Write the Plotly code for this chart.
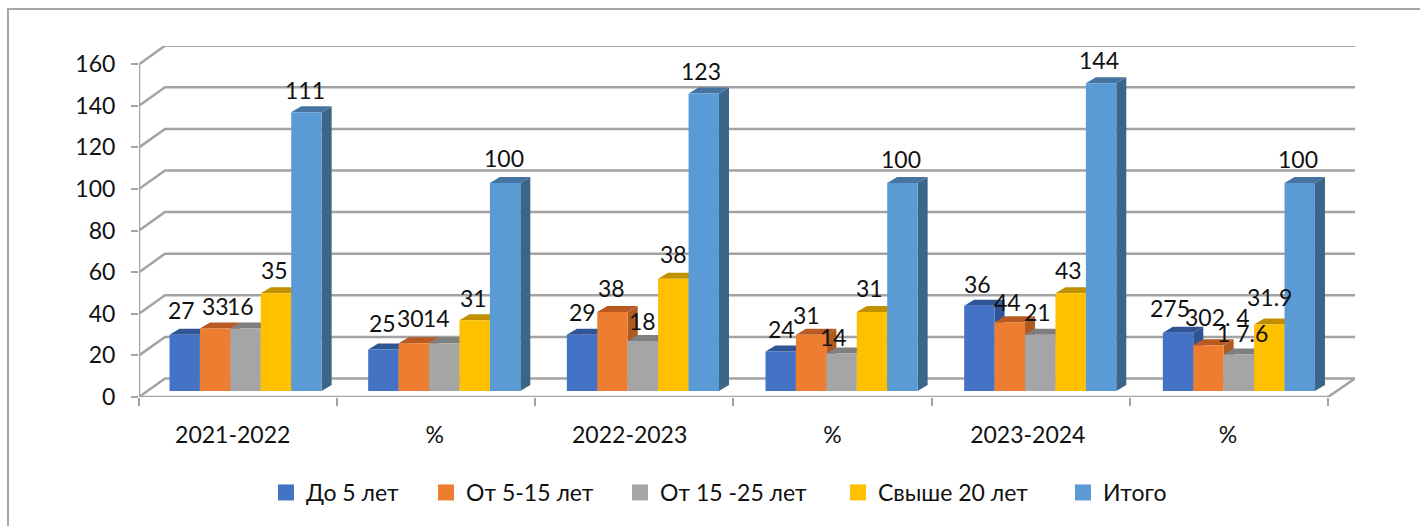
import plotly.graph_objects as go

series = ["До 5 лет", "От 5-15 лет", "От 15 -25 лет", "Свыше 20 лет", "Итого"]
categories = ["2021-2022", "%", "2022-2023", "%", "2023-2024", "%"]
y_ticks = [0, 20, 40, 60, 80, 100, 120, 140, 160]

# bar heights as drawn (they do not follow the data labels in the source chart)
do_5 = [27, 20, 27, 19, 41, 28]
ot_5_15 = [30, 23, 38, 27, 33, 22]
ot_15_25 = [30, 23, 24, 18, 27, 17.5]
svyshe_20 = [47, 34, 54, 38, 47, 32]
itogo = [134, 100, 143, 100, 148, 100]
heights = [do_5, ot_5_15, ot_15_25, svyshe_20, itogo]

labels_do_5 = ["27", "25", "29", "24", "36", "275"]
labels_ot_5_15 = ["33", "30", "38", "31", "44", "302. 4"]
labels_ot_15_25 = ["16", "14", "18", "14", "21", "1 7.6"]
labels_svyshe_20 = ["35", "31", "38", "31", "43", "31.9"]
labels_itogo = ["111", "100", "123", "100", "144", "100"]
labels = [labels_do_5, labels_ot_5_15, labels_ot_15_25, labels_svyshe_20, labels_itogo]

# hand placed labels in the source: pixel nudges from the top of each bar
nudge_x = [
    [-3, -1, 0, 1, -1.5, -8],
    [0, -3.5, -1, -5, -2, 9.5],
    [-5.5, -8, 0, -8, -2.5, 4],
    [-2, -1.5, 0, -2.5, -2, 0],
    [-1.5, -1, -2.5, -1, -2.5, -2],
]
nudge_y = [
    [25, 26, 23, 22, 22, 25],
    [23, 25, 24, 20, 20, 28],
    [23, 25, 20, 17, 23, 22],
    [23, 22, 25, 24, 23, 27],
    [22, 25, 23, 24, 23, 24],
]
category_nudge = [-0.027, -0.008, -0.024, 0, -0.015, -0.005]

front_colors = ["#4472C4", "#ED7D31", "#A5A5A5", "#FFC000", "#5B9BD5"]
side_colors = ["#2F5597", "#AE5A21", "#787878", "#BC8C00", "#3B6589"]
top_colors = ["#2F5597", "#B85A22", "#7F7F7F", "#BF9000", "#44749F"]
legend_x = [266, 426, 620, 838, 1063]

GRID = "#A3A3A3"
FONT = "Lato"
FONT_SIZE = 23
X_MAX = 6 + 27 / 198
Y_MAX = 351 / 2.08
WALL_X = 26 / 198
WALL_Y = 18.5 / 2.08
BAR_W = 30.4 / 198
BAR_START = 0.154
GROUP_STEP = 198.5 / 198
BAR_BASE = 6 / 2.08
DEPTH_X = 10 / 198
DEPTH_Y = 6 / 2.08

fig = go.Figure()

# back wall, floor and the diagonal ticks
grid_x, grid_y = [], []
for v in y_ticks:
    grid_x += [0, WALL_X, X_MAX, None]
    grid_y += [v, v + WALL_Y, v + WALL_Y, None]
grid_x += [6, X_MAX, None]
grid_y += [0, WALL_Y, None]
fig.add_trace(go.Scatter(x=grid_x, y=grid_y, mode="lines", line=dict(color=GRID, width=2.5),
                         cliponaxis=False, showlegend=False, hoverinfo="skip"))
fig.add_trace(go.Scatter(x=[0, 0, None, 0, 6], y=[0, 160, None, 0, 0], mode="lines",
                         line=dict(color=GRID, width=2.5), cliponaxis=False,
                         showlegend=False, hoverinfo="skip"))

for s, name in enumerate(series):
    lefts = [i * GROUP_STEP + BAR_START + s * BAR_W for i in range(len(categories))]

    # side and top faces sit under the fronts, in series order
    side_x, side_y, top_x, top_y = [], [], [], []
    for left, h in zip(lefts, heights[s]):
        right = left + BAR_W
        top = BAR_BASE + h
        side_x += [right, right + DEPTH_X, right + DEPTH_X, right, right, None]
        side_y += [BAR_BASE, BAR_BASE + DEPTH_Y, top + DEPTH_Y, top, BAR_BASE, None]
        top_x += [left, right, right + DEPTH_X, left + DEPTH_X, left, None]
        top_y += [top, top, top + DEPTH_Y, top + DEPTH_Y, top, None]
    fig.add_trace(go.Scatter(x=side_x, y=side_y, mode="lines", fill="toself", fillcolor=side_colors[s],
                             line=dict(width=0), showlegend=False, hoverinfo="skip"))
    fig.add_trace(go.Scatter(x=top_x, y=top_y, mode="lines", fill="toself", fillcolor=top_colors[s],
                             line=dict(width=0), showlegend=False, hoverinfo="skip"))

    # fronts live on overlaid axes so they cover the neighbouring side faces
    fig.add_trace(go.Bar(x=[left + BAR_W / 2 for left in lefts], y=heights[s], base=BAR_BASE,
                         width=BAR_W, marker=dict(color=front_colors[s], line=dict(width=0)),
                         name=name, showlegend=False, xaxis="x2", yaxis="y2"))

    # legend swatch, one legend per series because the gaps are uneven
    legend_id = "legend" if s == 0 else f"legend{s + 1}"
    fig.add_trace(go.Scatter(x=[None], y=[None], mode="markers", name=name, legend=legend_id,
                             marker=dict(symbol="square", size=16, color=front_colors[s])))

    for i, left in enumerate(lefts):
        fig.add_annotation(x=left + BAR_W / 2, y=BAR_BASE + heights[s][i], xref="x2", yref="y2",
                           text=labels[s][i], showarrow=False, xanchor="center", yanchor="middle",
                           xshift=nudge_x[s][i], yshift=nudge_y[s][i],
                           font=dict(family=FONT, size=FONT_SIZE, color="#111111"))

legends = {}
for s in range(len(series)):
    key = "legend" if s == 0 else f"legend{s + 1}"
    legends[key] = dict(x=(legend_x[s] - 139) / 1216, y=-0.272, xanchor="left", yanchor="middle",
                        bgcolor="rgba(0,0,0,0)",
                        font=dict(family=FONT, size=FONT_SIZE, color="#111111"))

fig.update_layout(
    width=1420, height=526, margin=dict(l=139, r=65, t=46, b=129),
    paper_bgcolor="white", plot_bgcolor="white",
    font=dict(family=FONT, size=FONT_SIZE, color="#111111"),
    barmode="overlay",
    xaxis=dict(range=[0, X_MAX], tickmode="array",
               tickvals=[i + 0.5 + category_nudge[i] for i in range(6)],
               ticktext=categories, ticks="", showgrid=False, zeroline=False, showline=False,
               ticklabelstandoff=22, fixedrange=True,
               minor=dict(tickmode="array", tickvals=list(range(7)), ticks="outside",
                          ticklen=8, tickwidth=1.5, tickcolor=GRID, showgrid=False)),
    yaxis=dict(range=[0, Y_MAX], tickmode="array", tickvals=y_ticks, ticks="outside", ticklen=7,
               tickwidth=2, tickcolor=GRID, showgrid=False, zeroline=False, showline=False,
               ticklabelstandoff=11, fixedrange=True),
    xaxis2=dict(range=[0, X_MAX], overlaying="x", visible=False, fixedrange=True),
    yaxis2=dict(range=[0, Y_MAX], overlaying="y", visible=False, fixedrange=True),
    shapes=[dict(type="path", xref="paper", yref="paper", layer="below",
                 path=f"M {-131 / 1216} -1 L {-131 / 1216} {1 + 37 / 351} L {1281 / 1216} {1 + 37 / 351}",
                 line=dict(color="#A6A6A6", width=2))],
    **legends,
)

fig.write_html("out.html", post_script="document.body.style.margin='0';",
               config=dict(displayModeBar=False))
